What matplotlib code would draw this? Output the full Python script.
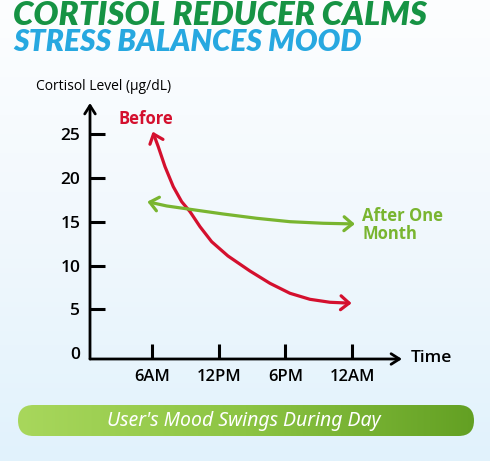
import numpy as np
import matplotlib
matplotlib.use("Agg")
import matplotlib.pyplot as plt
from matplotlib.patches import FancyArrowPatch, FancyBboxPatch
from matplotlib.path import Path
from matplotlib.colors import LinearSegmentedColormap

# ---- data ----
time_labels = ["6AM", "12PM", "6PM", "12AM"]
time_pos = [1, 2, 3, 4]
y_ticks = [0, 5, 10, 15, 20, 25]

before_x = [1.010, 1.094, 1.195, 1.319, 1.445, 1.570, 1.720, 1.895, 2.139,
            2.469, 2.769, 3.069, 3.369, 3.669, 3.994]
before_y = [25.32, 23.60, 21.32, 19.03, 17.31, 16.17, 14.45, 12.73, 11.10,
            9.38, 7.97, 6.83, 6.14, 5.80, 5.69]

after_x = [0.930, 1.220, 1.570, 2.069, 2.570, 3.069, 3.568, 4.043]
after_y = [17.31, 16.82, 16.44, 15.90, 15.41, 15.02, 14.84, 14.76]

title1 = "CORTISOL REDUCER CALMS"
title2 = "STRESS BALANCES MOOD"
ylabel = "Cortisol Level (\u03bcg/dL)"
xlabel = "Time"
banner_text = "User's Mood Swings During Day"

RED = "#d4102e"
GREEN = "#79b530"
TGREEN = "#169344"
TBLUE = "#27a8e0"
LFONT = "Open Sans"

W, H = 490, 461
fig = plt.figure(figsize=(W / 100, H / 100), dpi=100)

# background
bg = fig.add_axes([0, 0, 1, 1])
bg.set_xlim(0, W)
bg.set_ylim(H, 0)
bg.axis("off")
bgcmap = LinearSegmentedColormap.from_list("bg", ["#fdfeff", "#f1f8fd", "#e1f2fc"])
grad = np.linspace(0, 1, 256).reshape(-1, 1)
bg.imshow(grad, extent=[0, W, H, 0], aspect="auto", cmap=bgcmap, zorder=0)

# banner
bx0, bx1, by0, by1 = 18, 474, 405, 436
r = (by1 - by0) / 2
banner = FancyBboxPatch((bx0 + r, by0 + r), (bx1 - bx0) - 2 * r, (by1 - by0) - 2 * r,
                        boxstyle="round,pad=%f" % r,
                        facecolor="none", edgecolor="none", zorder=1)
bg.add_patch(banner)
bcmap = LinearSegmentedColormap.from_list("bn", ["#a8d75c", "#8cc443", "#63a023"])
hgrad = np.linspace(0, 1, 256).reshape(1, -1)
im = bg.imshow(hgrad, extent=[bx0, bx1, by1, by0], aspect="auto", cmap=bcmap, zorder=2)
im.set_clip_path(banner)
bg.text((bx0 + bx1) / 2 - 2, (by0 + by1) / 2 + 0.5, banner_text, color="white",
        fontsize=14, style="italic", family="Noto Sans", ha="center", va="center", zorder=3)

bg.text(13, 25, title1, color=TGREEN, fontsize=23.8, fontweight="heavy", style="italic",
        family="Lato", ha="left", va="baseline", zorder=3)
bg.text(13, 51, title2, color=TBLUE, fontsize=21.5, fontweight="heavy", style="italic",
        family="Lato", ha="left", va="baseline", zorder=3)

# chart axes (pixel mapping)
x0px, x1px, y0px, y1px = 90, 402, 359, 103
ax = fig.add_axes([x0px / W, (H - y0px) / H, (x1px - x0px) / W, (y0px - y1px) / H])
ax.patch.set_alpha(0)
ax.set_xlim(0.07, 4.75)
ax.set_ylim(-0.69, 28.6)
for s in ax.spines.values():
    s.set_visible(False)

# axis lines with open arrowheads
for xy in [(1.0, 0), (0, 1.0)]:
    ax.annotate("", xy=xy, xytext=(0, 0), xycoords="axes fraction",
                arrowprops=dict(arrowstyle="->,head_length=0.6,head_width=0.38", lw=2,
                                color="black", shrinkA=0, shrinkB=0))

ax.set_xticks(time_pos)
ax.set_xticklabels(time_labels)
ax.set_yticks(y_ticks)
ax.set_yticklabels([str(v) for v in y_ticks])
ax.tick_params(axis="y", direction="in", length=11, width=2.2, pad=7, labelsize=12.5)
ax.tick_params(axis="x", direction="in", length=10.5, width=2.2, pad=7, labelsize=12)
ax.yaxis.get_major_ticks()[0].tick1line.set_visible(False)
for lab in ax.get_xticklabels() + ax.get_yticklabels():
    lab.set_family(LFONT)
    lab.set_fontweight("semibold")

# curves
def curve(xs, ys, color):
    p = FancyArrowPatch(path=Path(np.column_stack([xs, ys])),
                        arrowstyle="<->,head_length=6,head_width=5",
                        color=color, lw=2.3, transform=ax.transData,
                        joinstyle="round", capstyle="round", zorder=4)
    p.set_clip_on(False)
    ax.add_patch(p)

curve(before_x, before_y, RED)
curve(after_x, after_y, GREEN)

fig.text(36 / W, 1 - 86 / H, ylabel, fontsize=10, family=LFONT, va="center", ha="left")
fig.text(411 / W, 1 - 358 / H, xlabel, fontsize=12.5, family=LFONT, fontweight="semibold",
         va="center", ha="left")
fig.text(118 / W, 1 - 119 / H, "Before", fontsize=12, family=LFONT, fontweight="bold",
         color=RED, va="center", ha="left")
fig.text(362 / W, 1 - 225 / H, "After One\nMonth", fontsize=12, family=LFONT,
         fontweight="bold", color=GREEN, va="center", ha="left", linespacing=1.0)

fig.savefig("out.png", dpi=100)
